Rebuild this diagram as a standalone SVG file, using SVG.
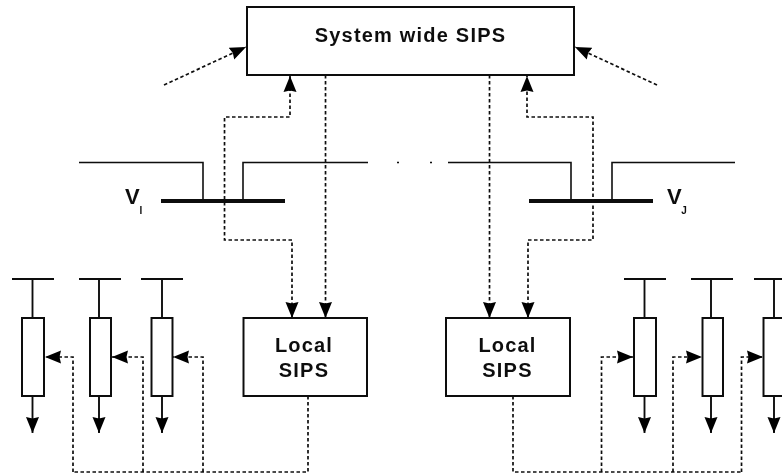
<svg xmlns="http://www.w3.org/2000/svg" width="782" height="474" viewBox="0 0 782 474">
<style>
g{filter:url(#f)}
.b{fill:#fff;stroke:#111;stroke-width:2}
.s{fill:none;stroke:#111;stroke-width:1.6}
.g{fill:none;stroke:#111;stroke-width:1.9}
.h{fill:none;stroke:#111;stroke-width:4}
.d{fill:none;stroke:#111;stroke-width:1.7;stroke-dasharray:3.500 2.500}
.a{fill:none;stroke:#111;stroke-width:1.7;stroke-dasharray:3.500 2.500;marker-end:url(#m)}
.w{marker-start:url(#m)}
.t{font-family:"Liberation Sans",Arial,sans-serif;font-weight:bold;font-size:20px;letter-spacing:1.2px;fill:#111;text-anchor:middle}
.v{font-family:"Liberation Sans",Arial,sans-serif;font-weight:bold;font-size:22px;fill:#111}
.i{font-family:"Liberation Sans",Arial,sans-serif;font-weight:bold;font-size:10px;fill:#111;text-anchor:middle}
</style>
<defs>
<filter id="f" x="-5%" y="-5%" width="110%" height="110%" filterUnits="objectBoundingBox"><feGaussianBlur stdDeviation="0.4"/></filter>
<marker id="m" markerUnits="userSpaceOnUse" markerWidth="17" markerHeight="14" refX="16" refY="7" orient="auto-start-reverse"><path d="M0 0.500L16 7L0 13.500L1.500 7Z" fill="#000"/></marker>
<marker id="n" markerUnits="userSpaceOnUse" markerWidth="17" markerHeight="14" refX="16" refY="7" orient="auto"><path d="M0 0.500L16 7L0 13.500L1.500 7Z" fill="#000"/></marker>
</defs>
<g id="network">
<path class="s" d="M79 162.500H203V201M243 201V162.500H368M448 162.500H571V201M612 201V162.500H735"/>
<path class="s" d="M397 162.500h2M430 162.500h2"/>
<path class="h" d="M161 201H285M529 201H653"/>
<text class="v" x="125" y="204">V</text><text class="i" x="141" y="214">I</text>
<text class="v" x="667" y="204">V</text><text class="i" x="684" y="214">J</text>
</g>
<g id="connectors">
<path class="a" d="M164 85L246 47"/>
<path class="a" d="M657 85L575 47"/>
<path class="a w" d="M292 318V240H224.500V117H290V76"/>
<path class="a" d="M325.500 75V318"/>
<path class="a" d="M489.500 75V318"/>
<path class="a w" d="M528 318V240H593V117H527V76"/>
<path class="d" d="M308 396V472H73"/>
<path class="a" d="M73 472V357H45"/>
<path class="a" d="M143 472V357H112"/>
<path class="a" d="M203 472V357H173"/>
<path class="d" d="M513 396V472H742"/>
<path class="a" d="M601.500 472V357H633"/>
<path class="a" d="M673 472V357H702"/>
<path class="a" d="M741.500 472V357H763"/>
</g>
<g id="system-sips"><rect class="b" x="247" y="7" width="327" height="68"/><text class="t" x="410.500" y="42">System wide SIPS</text></g>
<g id="local-sips-left"><rect class="b" x="243.500" y="318" width="123.500" height="78"/><text class="t" x="304" y="352">Local</text><text class="t" x="304" y="377">SIPS</text></g>
<g id="local-sips-right"><rect class="b" x="446" y="318" width="124" height="78"/><text class="t" x="507.500" y="352">Local</text><text class="t" x="507.500" y="377">SIPS</text></g>
<g id="load-l1"><path class="g" d="M12 279H54M32.500 279V318M32.500 396V433" marker-end="url(#n)"/><rect class="b" x="22" y="318" width="22" height="78"/></g>
<g id="load-l2"><path class="g" d="M79 279H121M99 279V318M99 396V433" marker-end="url(#n)"/><rect class="b" x="90" y="318" width="21" height="78"/></g>
<g id="load-l3"><path class="g" d="M141 279H183M162 279V318M162 396V433" marker-end="url(#n)"/><rect class="b" x="151.500" y="318" width="21" height="78"/></g>
<g id="load-r1"><path class="g" d="M624 279H666M644.500 279V318M644.500 396V433" marker-end="url(#n)"/><rect class="b" x="634" y="318" width="22" height="78"/></g>
<g id="load-r2"><path class="g" d="M691 279H733M711 279V318M711 396V433" marker-end="url(#n)"/><rect class="b" x="702.500" y="318" width="20.500" height="78"/></g>
<g id="load-r3"><path class="g" d="M754 279H782M774 279V318M774 396V433" marker-end="url(#n)"/><rect class="b" x="763.500" y="318" width="22" height="78"/></g>
</svg>
